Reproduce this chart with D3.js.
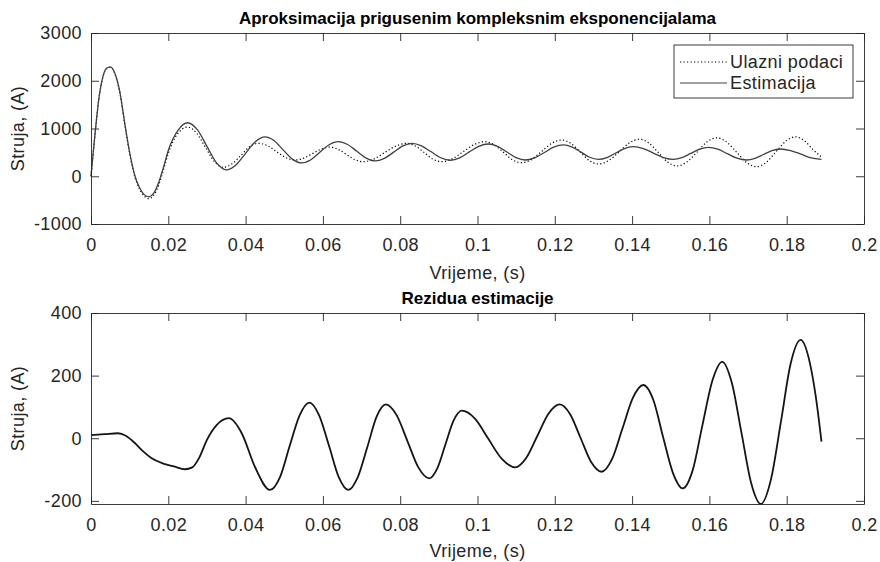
<!DOCTYPE html>
<html>
<head>
<meta charset="utf-8">
<script src="https://cdn.jsdelivr.net/npm/d3@7"></script>
<style>
  body { margin: 0; background: #fff; }
  text { font-family: "Liberation Sans", Arial, Helvetica, sans-serif; fill: #262626; }
</style>
</head>
<body>
<svg class="chart" width="880" height="562"></svg>
<script>
//------------------------------------------------------------------------------
//Data
//------------------------------------------------------------------------------
let xTicks = [0, 0.02, 0.04, 0.06, 0.08, 0.1, 0.12, 0.14, 0.16, 0.18, 0.2];
let yTicksTop = [-1000, 0, 1000, 2000, 3000];
let yTicksBottom = [-200, 0, 200, 400];

let legendLabels = ["Ulazni podaci", "Estimacija"];

// input data (dotted)
let tInput = [0, 0.001, 0.002, 0.003, 0.004, 0.005, 0.0062, 0.0075, 0.0088, 0.01, 0.0114,
  0.0125, 0.0137, 0.015, 0.0162, 0.0175, 0.0188, 0.02, 0.0225, 0.025, 0.0273,
  0.0296, 0.0319, 0.0342, 0.0365, 0.0388, 0.041, 0.0433, 0.0457, 0.048, 0.0504,
  0.0528, 0.055, 0.0573, 0.0595, 0.0618, 0.064, 0.0661, 0.0683, 0.0704, 0.0732,
  0.076, 0.0789, 0.0817, 0.0839, 0.0862, 0.0884, 0.0907, 0.0935, 0.0963, 0.0991,
  0.1019, 0.1043, 0.1067, 0.109, 0.1114, 0.114, 0.1166, 0.1192, 0.1218, 0.1242,
  0.1266, 0.1289, 0.1313, 0.134, 0.1367, 0.1393, 0.142, 0.1444, 0.1468, 0.1492,
  0.1516, 0.1542, 0.1568, 0.1593, 0.1619, 0.1645, 0.1671, 0.1696, 0.1722, 0.1747,
  0.1772, 0.1797, 0.1822, 0.1847, 0.1868, 0.189];
let inputVals = [0, 850, 1600, 2050, 2250, 2280, 2140, 1730, 1050, 470, -30,
  -260, -410, -470, -400, -190, 150, 480, 900, 1030, 906,
  608, 310, 187, 260, 438, 616, 690, 639, 515, 391,
  340, 379, 473, 567, 610, 561, 455, 349, 305, 361,
  497, 633, 690, 633, 497, 361, 305, 366, 514, 662,
  724, 660, 504, 348, 284, 353, 521, 689, 759, 685,
  507, 329, 256, 332, 515, 698, 775, 691, 494, 297,
  215, 300, 505, 715, 805, 712, 500, 288, 200, 291,
  510, 729, 825, 735, 560, 400];

// estimation (solid)
let tEst = [0, 0.001, 0.002, 0.003, 0.004, 0.005, 0.0062, 0.0075, 0.0088, 0.01, 0.0114,
  0.0125, 0.0137, 0.015, 0.0162, 0.0175, 0.0188, 0.02, 0.0225, 0.025, 0.0275,
  0.03, 0.0325, 0.035, 0.0375, 0.04, 0.0425, 0.045, 0.0474, 0.0497, 0.0521,
  0.0545, 0.0569, 0.0592, 0.0616, 0.064, 0.0664, 0.0688, 0.0712, 0.0735, 0.0759,
  0.0783, 0.0807, 0.083, 0.0855, 0.088, 0.0905, 0.093, 0.0954, 0.0978, 0.1003,
  0.1028, 0.1052, 0.1076, 0.11, 0.1123, 0.1148, 0.1173, 0.1197, 0.1222, 0.1245,
  0.1268, 0.129, 0.1313, 0.1335, 0.1358, 0.138, 0.1403, 0.1429, 0.1455, 0.1481,
  0.1507, 0.1529, 0.1552, 0.1575, 0.1597, 0.1622, 0.1646, 0.1671, 0.1696, 0.1718,
  0.174, 0.1762, 0.1783, 0.181, 0.1837, 0.1863, 0.189];
let estVals = [0, 850, 1600, 2060, 2260, 2290, 2150, 1750, 1073, 500, 0,
  -230, -380, -430, -360, -130, 200, 540, 960, 1120, 975,
  627, 279, 135, 236, 480, 724, 825, 745, 552, 359,
  280, 345, 502, 659, 725, 665, 522, 380, 320, 374,
  505, 636, 690, 637, 512, 387, 335, 385, 505, 625,
  675, 625, 507, 389, 340, 386, 497, 608, 655, 610,
  504, 398, 354, 392, 486, 580, 619, 580, 486, 392,
  354, 391, 480, 569, 606, 567, 473, 379, 340, 373,
  455, 537, 571, 539, 462, 385, 354];

// residual
let tRes = [0, 0.0035, 0.007, 0.009, 0.0114, 0.0135, 0.0157, 0.0185, 0.0215, 0.0243,
  0.0262, 0.028, 0.03, 0.0325, 0.0357, 0.039, 0.0424, 0.0463, 0.0489, 0.0514, 0.054,
  0.0565, 0.059, 0.0616, 0.0641, 0.0666, 0.069, 0.0715, 0.0739, 0.0763, 0.0791,
  0.0819, 0.0847, 0.0875, 0.0896, 0.0917, 0.0938, 0.0959, 0.0994, 0.1028, 0.1063,
  0.1097, 0.1126, 0.1155, 0.1184, 0.1213, 0.124, 0.1267, 0.1294, 0.1321, 0.1348,
  0.1375, 0.1402, 0.1429, 0.1455, 0.148, 0.1506, 0.1531, 0.1557, 0.1582, 0.1608,
  0.1633, 0.1658, 0.1683, 0.1708, 0.1733, 0.1759, 0.1785, 0.181, 0.1836, 0.186,
  0.1875, 0.189];
let resVals = [10, 13, 16, 8, -16, -42, -64, -80, -90, -99,
  -93, -62, -5, 42, 64, 16, -91, -165, -124, -25, 74,
  114, 74, -25, -124, -165, -125, -28, 69, 108, 73,
  -10, -93, -128, -96, -20, 56, 88, 62, -2, -66,
  -93, -63, 8, 79, 108, 76, 0, -76, -107, -67,
  31, 129, 170, 122, 5, -112, -160, -101, 42, 185,
  244, 177, 17, -143, -210, -133, 52, 237, 314, 240,
  135, -11];


main()


//------------------------------------------------------------------------------
//Main
//------------------------------------------------------------------------------
function main()
{
    var svg = d3.select(".chart");

    var top = drawPanel(svg, {
        top: 33, bottom: 224, yDomain: [-1000, 3000], yTicks: yTicksTop,
        labelGap: 55, title: "Aproksimacija prigusenim kompleksnim eksponencijalama"
    });
    top.g.append("path")
        .datum(d3.zip(tInput, inputVals))
        .attr("fill", "none")
        .attr("stroke", "#000")
        .attr("stroke-width", 1.2)
        .attr("stroke-dasharray", "1.2,2.3")
        .attr("d", top.line);
    top.g.append("path")
        .datum(d3.zip(tEst, estVals))
        .attr("fill", "none")
        .attr("stroke", "#404040")
        .attr("stroke-width", 1.3)
        .attr("d", top.line);
    legend(svg);

    var bot = drawPanel(svg, {
        top: 313, bottom: 504, yDomain: [-210, 400], yTicks: yTicksBottom,
        labelGap: 53, title: "Rezidua estimacije"
    });
    bot.g.append("path")
        .datum(d3.zip(tRes, resVals))
        .attr("fill", "none")
        .attr("stroke", "#151515")
        .attr("stroke-width", 1.8)
        .attr("d", bot.line);
}



//------------------------------------------------------------------------------
//Panel (axes box, ticks, labels)
//------------------------------------------------------------------------------
function drawPanel(svg, o)
{
    var left = 91, right = 864;
    var x = d3.scaleLinear().domain([0, 0.2]).range([left, right]);
    var y = d3.scaleLinear().domain(o.yDomain).range([o.bottom, o.top]);

    var g = svg.append("g");
    var axes = svg.append("g");

    axes.append("g")
        .attr("transform", "translate(0," + o.bottom + ")")
        .call(d3.axisBottom(x).tickValues(xTicks).tickSize(-8).tickSizeOuter(0).tickPadding(14)
            .tickFormat(d3.format("~g")));
    axes.append("g")
        .attr("transform", "translate(0," + o.top + ")")
        .call(d3.axisTop(x).tickValues(xTicks).tickSize(-8).tickSizeOuter(0).tickFormat(""));
    axes.append("g")
        .attr("transform", "translate(" + left + ",0)")
        .call(d3.axisLeft(y).tickValues(o.yTicks).tickSize(-8).tickSizeOuter(0).tickPadding(9)
            .tickFormat(d => String(d)));
    axes.append("g")
        .attr("transform", "translate(" + right + ",0)")
        .call(d3.axisRight(y).tickValues(o.yTicks).tickSize(-8).tickSizeOuter(0).tickFormat(""));

    axes.selectAll(".domain, .tick line").attr("stroke", "#262626").attr("stroke-width", 0.9);
    axes.selectAll(".tick text")
        .attr("font-size", 18)
        .attr("letter-spacing", 0.4)
        .attr("font-family", "'Liberation Sans', Arial, sans-serif")
        .attr("fill", "#262626");

    svg.append("text")
        .attr("x", (left + right) / 2)
        .attr("y", o.top - 9)
        .attr("text-anchor", "middle")
        .attr("font-size", 17)
        .attr("font-weight", "bold")
        .style("fill", "#000")
        .text(o.title);

    svg.append("text")
        .attr("x", (left + right) / 2)
        .attr("y", o.bottom + o.labelGap)
        .attr("text-anchor", "middle")
        .attr("font-size", 18)
        .attr("letter-spacing", 0.4)
        .text("Vrijeme, (s)");

    svg.append("text")
        .attr("transform", "translate(24," + (o.top + o.bottom) / 2 + ") rotate(-90)")
        .attr("text-anchor", "middle")
        .attr("font-size", 18)
        .attr("letter-spacing", 0.4)
        .text("Struja, (A)");

    var line = d3.line()
        .x(d => x(d[0]))
        .y(d => y(d[1]))
        .curve(d3.curveMonotoneX);

    return {g: g, x: x, y: y, line: line};
}



//------------------------------------------------------------------------------
//Legend
//------------------------------------------------------------------------------
function legend(svg)
{
    var lg = svg.append("g").attr("transform", "translate(674,45)");
    lg.append("rect")
        .attr("width", 179).attr("height", 53)
        .attr("fill", "#fff")
        .attr("stroke", "#262626").attr("stroke-width", 0.9);

    var styles = [{dash: "1.2,2.3", color: "#000"}, {dash: null, color: "#404040"}];
    legendLabels.forEach((name, i) => {
        var yy = 17 + i * 21;
        lg.append("line")
            .attr("x1", 6).attr("x2", 53).attr("y1", yy).attr("y2", yy)
            .attr("stroke", styles[i].color)
            .attr("stroke-width", 1.2)
            .attr("stroke-dasharray", styles[i].dash);
        lg.append("text")
            .attr("x", 56).attr("y", yy)
            .attr("dy", "0.35em")
            .attr("font-size", 18)
            .attr("letter-spacing", 0.4)
            .text(name);
    });
}
</script>
</body>
</html>
